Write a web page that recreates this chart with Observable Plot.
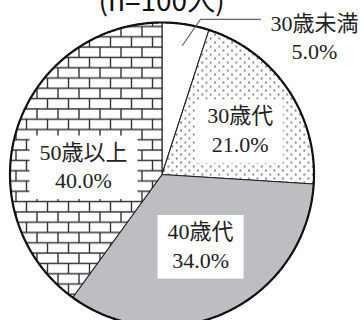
<!DOCTYPE html>
<html><head><meta charset="utf-8">
<script src="https://cdn.jsdelivr.net/npm/d3@7"></script>
<script src="https://cdn.jsdelivr.net/npm/@observablehq/plot@0.6"></script>
<style>body{margin:0;background:#fff}</style>
</head><body><div id="chart"></div>
<script>
const title = "(n=100人)";
const categories = ["30歳未満", "30歳代", "40歳代", "50歳以上"];
const values = [5.0, 21.0, 34.0, 40.0];
const fills = ["#ffffff", "url(#dots)", "#bdbec2", "url(#bricks)"];

const W = 362, H = 320, CX = 161.5, CY = 174, R = 152;
const total = d3.sum(values);
let acc = 0;
const slices = values.map((v, i) => {
  const a0 = acc / total * 2 * Math.PI; acc += v;
  const a1 = acc / total * 2 * Math.PI;
  return {i, category: categories[i], value: v, a0, a1, mid: (a0 + a1) / 2,
          label: categories[i] + "\n" + v.toFixed(1) + "%"};
});
const polar = (a, r) => ({x: r * Math.sin(a), y: r * Math.cos(a)});
function arcPoints(s) {
  const pts = [{x: 0, y: 0}];
  const n = Math.max(2, Math.ceil((s.a1 - s.a0) / (Math.PI / 360)));
  for (let k = 0; k <= n; k++) pts.push(polar(s.a0 + (s.a1 - s.a0) * k / n, 1));
  pts.push({x: 0, y: 0});
  return pts;
}
const circle = arcPoints({a0: 0, a1: 2 * Math.PI}).slice(1, -1);

// inner label layout (pixel nudges from radial anchor)
const nudges = [null, [9, 1], [3, -6], [1, 16]];
const inner = slices.filter(s => nudges[s.i]).map(s => {
  const p = polar(s.mid, 0.55);
  return {label: s.label, x: p.x + nudges[s.i][0] / R, y: p.y - nudges[s.i][1] / R};
});
// outside label with leader
const s0 = slices[0];
const p0 = polar(s0.mid, 0.86);
const p1 = {x: p0.x + 18 / R, y: p0.y + 26 / R};
const p2 = {x: p1.x + 60 / R, y: p1.y};
const outside = [{label: s0.label, x: p2.x + 54 / R, y: p2.y - 16.5 / R}];

const serif = "'Liberation Serif', 'Noto Sans CJK JP', serif";

const chart = Plot.plot({
  width: W, height: H,
  margin: 0,
  style: {background: "#fff"},
  x: {domain: [-CX / R, (W - CX) / R], range: [0, W], axis: null},
  y: {domain: [-(H - CY) / R, CY / R], range: [H, 0], axis: null},
  marks: [
    ...slices.map(s => Plot.line(arcPoints(s), {x: "x", y: "y", fill: fills[s.i], stroke: "#222", strokeWidth: 1.1})),
    Plot.line(circle, {x: "x", y: "y", stroke: "#111", strokeWidth: 2.2}),
    Plot.line([p0, p1, p2], {x: "x", y: "y", stroke: "#666", strokeWidth: 1.1}),
    Plot.text(inner, {x: "x", y: "y", text: "label", fontSize: 22, lineHeight: 1.3, fill: "#222",
      fontFamily: serif}),
    Plot.text(outside, {x: "x", y: "y", text: "label", fontSize: 22, lineHeight: 1.3, fill: "#222",
      fontFamily: serif}),
    Plot.text([title], {frameAnchor: "top", lineAnchor: "bottom", dy: 10, dx: -20, fontSize: 28,
      fill: "#111", fontFamily: "'Noto Sans CJK JP', sans-serif"})
  ]
});
document.getElementById("chart").appendChild(chart);

// patterns
const defs = d3.select(chart).insert("defs", ":first-child");
const bricks = defs.append("pattern").attr("id", "bricks").attr("patternUnits", "userSpaceOnUse")
  .attr("x", 15.5).attr("y", 5.4).attr("width", 21).attr("height", 20.6);
bricks.append("rect").attr("width", 21).attr("height", 20.6).attr("fill", "#fff");
bricks.append("path").attr("d", "M0 0H21M0 10.3H21M0 20.6H21M0 0V10.3M21 0V10.3M10.5 10.3V20.6")
  .attr("stroke", "#333").attr("stroke-width", 1.4).attr("fill", "none");
const dots = defs.append("pattern").attr("id", "dots").attr("patternUnits", "userSpaceOnUse")
  .attr("width", 8.5).attr("height", 8);
dots.append("rect").attr("width", 8.5).attr("height", 8).attr("fill", "#fff");
dots.append("circle").attr("cx", 2).attr("cy", 2).attr("r", 0.85).attr("fill", "#222");
dots.append("circle").attr("cx", 6.25).attr("cy", 6).attr("r", 0.85).attr("fill", "#222");

// white boxes behind inner labels (first text mark)
const innerTexts = Array.from(chart.querySelectorAll("text"))
  .filter(t => inner.some(d => d.label.split("\n")[0] === (t.querySelector("tspan") || t).textContent.trim() ||
                               t.textContent.startsWith(d.label.split("\n")[0])));
const ns = "http://www.w3.org/2000/svg";
innerTexts.forEach(t => {
  const b = t.getBBox();
  const padX = 10, padT = 4, padB = 6;
  const r = document.createElementNS(ns, "rect");
  const tr = t.getAttribute("transform");
  if (tr) r.setAttribute("transform", tr);
  r.setAttribute("x", b.x - padX);
  r.setAttribute("y", b.y - padT);
  r.setAttribute("width", b.width + 2 * padX);
  r.setAttribute("height", b.height + padT + padB);
  r.setAttribute("fill", "#fff");
  t.parentNode.insertBefore(r, t);
});
</script>
</body></html>
